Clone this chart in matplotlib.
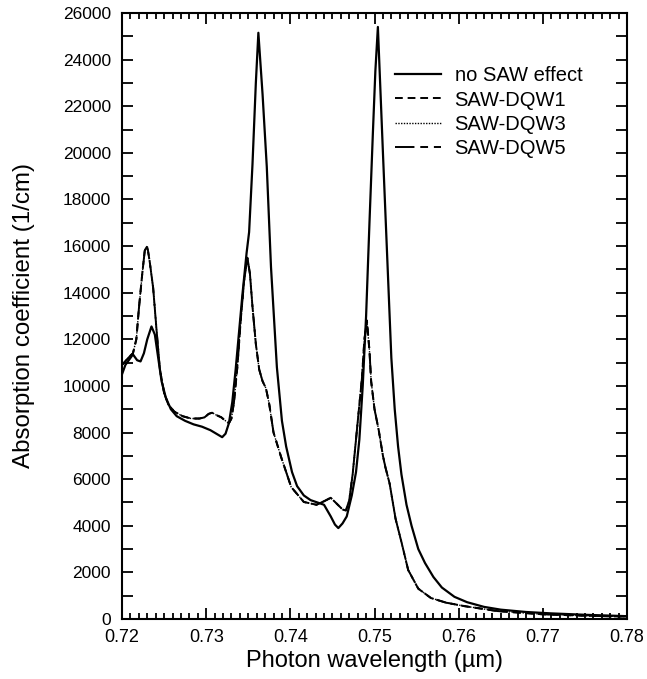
import matplotlib
matplotlib.use("Agg")
import matplotlib.pyplot as plt
from matplotlib.ticker import MultipleLocator

plt.rcParams['font.family'] = ['Liberation Sans', 'DejaVu Sans']

# no SAW effect (solid curve), wavelength in um, absorption in 1/cm
nosaw_wl = [0.7200, 0.7204, 0.7208, 0.7213, 0.7218, 0.7222, 0.7226, 0.7230, 0.7235,
            0.7239, 0.7243, 0.7247, 0.7252, 0.7258, 0.7265, 0.7275, 0.7285, 0.7295,
            0.7305, 0.7312, 0.7319, 0.7323, 0.7327, 0.7331, 0.7335, 0.7339, 0.7343,
            0.7348, 0.7351, 0.7355, 0.7359, 0.7362, 0.7367, 0.7372, 0.7377, 0.7384,
            0.7390, 0.7395, 0.7402, 0.7408, 0.7416, 0.7424, 0.7432, 0.7440, 0.7448,
            0.7453, 0.7457, 0.7462, 0.7467, 0.7473, 0.7478, 0.7482, 0.7486, 0.7490,
            0.7494, 0.7498, 0.7501, 0.7504, 0.7510, 0.7515, 0.7520, 0.7524, 0.7528,
            0.7532, 0.7538, 0.7544, 0.7552, 0.7560, 0.7570, 0.7580, 0.7595, 0.7610,
            0.7630, 0.7650, 0.7680, 0.7710, 0.7750, 0.7800]
nosaw_abs = [10500, 10900, 11100, 11350, 11100, 11050, 11400, 12000, 12550,
             12200, 11200, 10200, 9500, 9000, 8700, 8500, 8350, 8250,
             8100, 7950, 7800, 7950, 8400, 9300, 10700, 12300, 13900,
             15700, 16600, 19500, 23000, 25150, 22500, 19400, 15100, 10800,
             8500, 7400, 6300, 5700, 5300, 5100, 5000, 4900, 4400,
             4050, 3900, 4100, 4400, 5300, 6300, 7700, 10000, 13000,
             17000, 20800, 23500, 25400, 20000, 15600, 11200, 9000, 7400,
             6200, 4900, 4000, 3000, 2400, 1800, 1350, 950, 720,
             520, 400, 300, 240, 180, 120]

# SAW curves (DQW1, DQW3, DQW5 lie on top of each other)
saw_wl = [0.7200, 0.7205, 0.7210, 0.7213, 0.7217, 0.7220, 0.7224, 0.7227, 0.7230,
          0.7233, 0.7237, 0.7241, 0.7245, 0.7250, 0.7255, 0.7262, 0.7272, 0.7282,
          0.7292, 0.7298, 0.7303, 0.7307, 0.7312, 0.7318, 0.7323, 0.7327, 0.7330,
          0.7333, 0.7337, 0.7341, 0.7345, 0.7349, 0.7352, 0.7355, 0.7359, 0.7363,
          0.7367, 0.7371, 0.7375, 0.7380, 0.7389, 0.7401, 0.7416, 0.7431, 0.7440,
          0.7448, 0.7455, 0.7462, 0.7466, 0.7470, 0.7474, 0.7478, 0.7482, 0.7485,
          0.7488, 0.7491, 0.7494, 0.7496, 0.7500, 0.7505, 0.7510, 0.7513, 0.7518,
          0.7525, 0.7532, 0.7540, 0.7552, 0.7567, 0.7585, 0.7607, 0.7646, 0.7700,
          0.7750, 0.7800]
saw_abs = [10900, 11100, 11300, 11400, 12000, 13300, 14800, 15800, 16000,
           15300, 14200, 12400, 10700, 9700, 9200, 8900, 8700, 8600,
           8600, 8650, 8800, 8850, 8750, 8650, 8500, 8400, 8600,
           9300, 10800, 12800, 14500, 15500, 14800, 13400, 11800, 10700,
           10200, 9900, 9200, 8000, 6950, 5660, 5020, 4900, 5050,
           5200, 4950, 4700, 4650, 5100, 6200, 7700, 9200, 10300,
           12000, 12800, 11500, 10200, 9000, 8100, 7000, 6500, 5800,
           4300, 3300, 2100, 1300, 900, 700, 550, 340, 200,
           140, 100]

fig = plt.figure(figsize=(6.47, 6.79), dpi=100)
ax = fig.add_axes([0.1886, 0.0884, 0.7805, 0.8925])

ax.plot(nosaw_wl, nosaw_abs, color='black', lw=1.6, ls='-', label='no SAW effect')
ax.plot(saw_wl, saw_abs, color='black', lw=1.4, ls=(0, (4, 2.5)), label='SAW-DQW1')
ax.plot(saw_wl, saw_abs, color='black', lw=1.0, ls=(0, (1, 1)), label='SAW-DQW3')
ax.plot(saw_wl, saw_abs, color='black', lw=1.4, ls=(0, (10, 3, 4, 3, 4, 3)), label='SAW-DQW5')

ax.set_xlim(0.72, 0.78)
ax.set_ylim(0, 26000)
ax.xaxis.set_major_locator(MultipleLocator(0.01))
ax.xaxis.set_minor_locator(MultipleLocator(0.001))
ax.yaxis.set_major_locator(MultipleLocator(2000))
ax.yaxis.set_minor_locator(MultipleLocator(1000))
ax.xaxis.set_major_formatter(plt.FuncFormatter(lambda v, p: '%.2f' % v))
ax.tick_params(which='both', direction='in', top=True, right=True, width=1.3)
ax.tick_params(axis='y', which='both', length=8, labelsize=12.5, pad=8)
ax.tick_params(axis='x', which='major', length=8, labelsize=13, pad=7)
ax.tick_params(axis='x', which='minor', length=4.5)
for s in ax.spines.values():
    s.set_linewidth(1.5)

ax.set_xlabel('Photon wavelength (\u00b5m)', fontsize=17, labelpad=3)
ax.set_ylabel('Absorption coefficient (1/cm)', fontsize=17.4, labelpad=20)

ax.legend(loc='upper left', bbox_to_anchor=(0.541, 0.912), frameon=False, fontsize=14.5,
          handlelength=2.25, handletextpad=0.7, labelspacing=0.26,
          borderaxespad=0, borderpad=0)

fig.savefig('out.png', dpi=100)
